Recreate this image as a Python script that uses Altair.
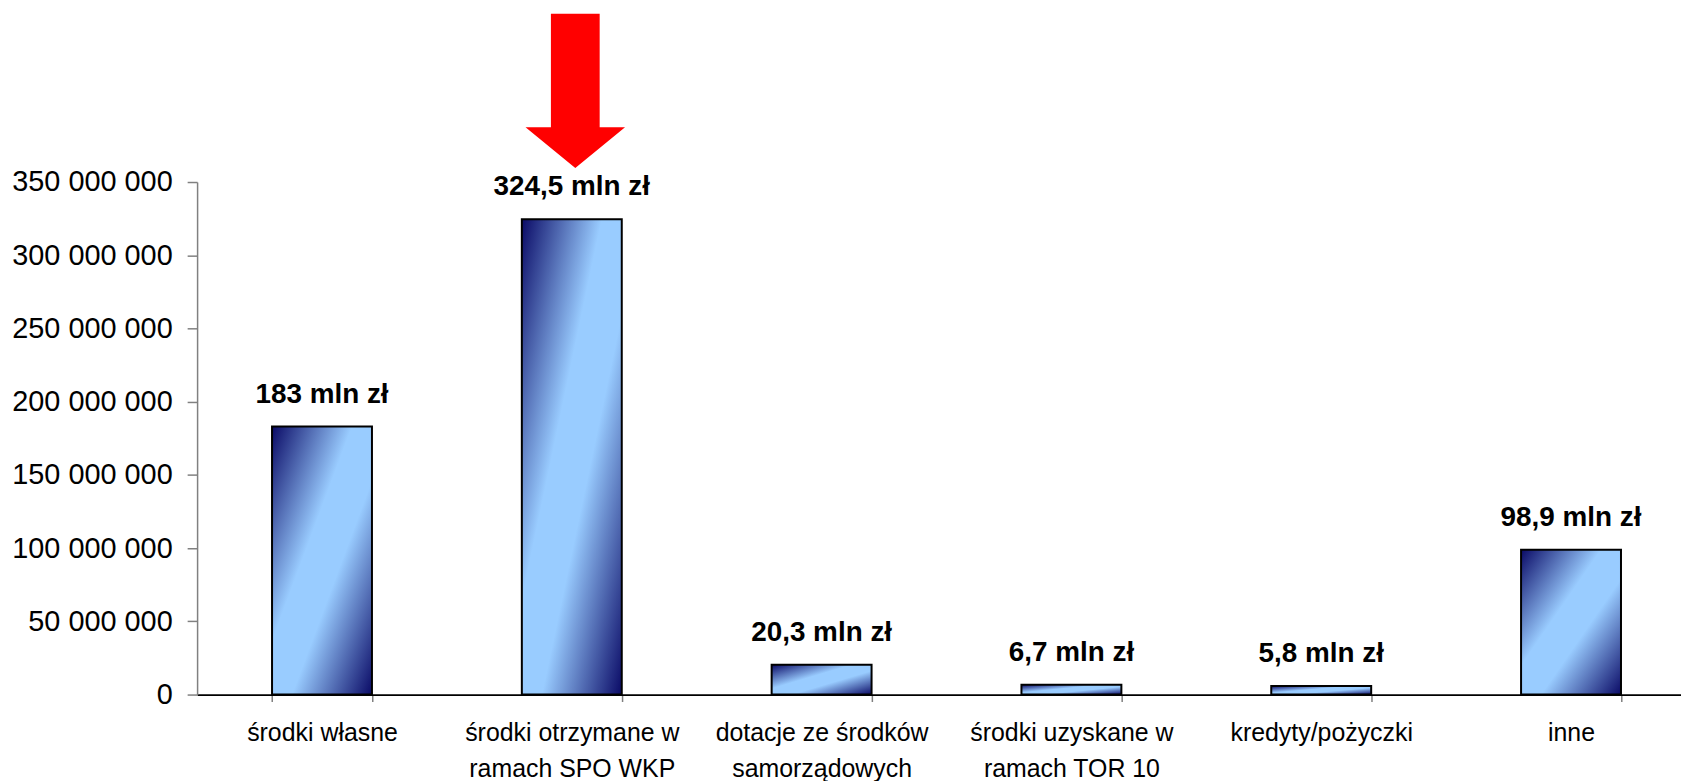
import altair as alt
import pandas as pd

# ---- data ----
categories = [
    "środki własne",
    "środki otrzymane w\nramach SPO WKP",
    "dotacje ze środków\nsamorządowych",
    "środki uzyskane w\nramach TOR 10",
    "kredyty/pożyczki",
    "inne",
]
values = [183_000_000, 324_500_000, 20_300_000, 6_700_000, 5_800_000, 98_900_000]
value_labels = ["183 mln zł", "324,5 mln zł", "20,3 mln zł", "6,7 mln zł", "5,8 mln zł", "98,9 mln zł"]
highlighted = ["środki otrzymane w\nramach SPO WKP"]
y_ticks = [0, 50_000_000, 100_000_000, 150_000_000, 200_000_000, 250_000_000, 300_000_000, 350_000_000]

df = pd.DataFrame({"kategoria": categories, "wartosc": values, "etykieta": value_labels})

FONT = "Liberation Sans"

x_enc = alt.X(
    "kategoria:N",
    sort=categories,
    scale=alt.Scale(range=[0, 1506], paddingInner=0.6, paddingOuter=0.3),
    axis=alt.Axis(
        title=None,
        labelAngle=0,
        tickBand="extent",
        labelExpr="isString(datum.value) ? split(datum.value, '\\n') : ''",
        labelFont=FONT,
        labelFontSize=25,
        labelColor="#000000",
        labelLineHeight=36,
        labelPadding=19,
        labelLimit=400,
        labelOverlap=False,
        labelBaseline="top",
        tickSize=7,
        tickColor="#808080",
        tickWidth=1.5,
        domainColor="#000000",
        domainWidth=1.8,
        grid=False,
    ),
)

y_enc = alt.Y(
    "wartosc:Q",
    scale=alt.Scale(domain=[0, 350_000_000], nice=False, zero=True),
    axis=alt.Axis(
        title=None,
        values=y_ticks,
        labelExpr="replace(format(datum.value, ','), regexp(',', 'g'), ' ')",
        labelFont=FONT,
        labelFontSize=29,
        labelColor="#000000",
        labelPadding=15,
        tickSize=10,
        tickColor="#808080",
        tickWidth=1.5,
        domainColor="#808080",
        domainWidth=1.5,
        grid=False,
    ),
)

gradient = alt.LinearGradient(
    gradient="linear",
    x1=0, y1=0, x2=1, y2=1,
    stops=[
        alt.GradientStop(offset=0, color="#0a0a66"),
        alt.GradientStop(offset=0.4, color="#99ccff"),
        alt.GradientStop(offset=0.6, color="#99ccff"),
        alt.GradientStop(offset=1, color="#0a0a66"),
    ],
)

base = alt.Chart(df)

bars = base.mark_bar(color=gradient, stroke="#000000", strokeWidth=2).encode(x=x_enc, y=y_enc)

labels = base.mark_text(
    font=FONT, fontSize=28, fontWeight="bold", color="#000000",
    baseline="alphabetic", dy=-24,
).encode(x=alt.X("kategoria:N", sort=categories), y="wartosc:Q", text="etykieta:N")

arrow_path = "M -0.316 -1 L 0.316 -1 L 0.316 0.471 L 0.645 0.471 L 0 1 L -0.645 0.471 L -0.316 0.471 Z"
arrow = base.transform_filter(
    alt.FieldOneOfPredicate(field="kategoria", oneOf=highlighted)
).mark_point(
    shape=arrow_path, size=24025, filled=True, color="#ff0000", opacity=1,
    yOffset=-129, xOffset=3.5,
).encode(x=alt.X("kategoria:N", sort=categories), y="wartosc:Q")

chart = (
    alt.layer(bars, labels, arrow)
    .properties(
        width=1491,
        height=515,
        padding={"left": 190, "top": 173, "right": 0, "bottom": 85},
        autosize=alt.AutoSizeParams(type="none"),
        background="#ffffff",
    )
    .configure_view(stroke=None)
)

chart.save("out.html", embed_options={"renderer": "svg", "actions": False})
